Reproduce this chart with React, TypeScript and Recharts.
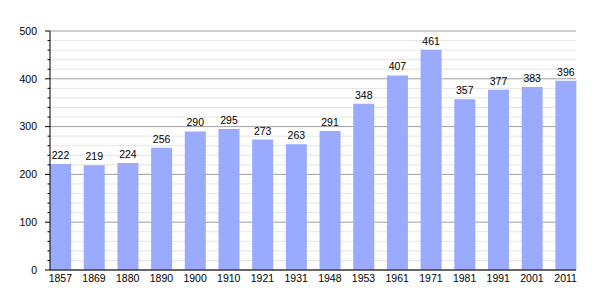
import React from 'react';
import { BarChart, Bar, XAxis, YAxis, CartesianGrid, LabelList } from 'recharts';

const years = ['1857', '1869', '1880', '1890', '1900', '1910', '1921', '1931', '1948', '1953', '1961', '1971', '1981', '1991', '2001', '2011'];
const population = [222, 219, 224, 256, 290, 295, 273, 263, 291, 348, 407, 461, 357, 377, 383, 396];
const yTicks = [0, 20, 40, 60, 80, 100, 120, 140, 160, 180, 200, 220, 240, 260, 280, 300, 320, 340, 360, 380, 400, 420, 440, 460, 480, 500];

const data = years.map((y, i) => ({ year: y, value: population[i] }));

const FONT = 'Liberation Sans, Arial, sans-serif';

const YTick = (props: any) => {
  const { x, y, payload } = props;
  const v = payload.value;
  const major = v % 100 === 0;
  return (
    <g>
      <line x1={x - (major ? 5 : 2.5)} x2={x} y1={y} y2={y} stroke="#000" strokeWidth={1} />
      {major && (
        <text x={x - 13} y={y} dy={3.8} textAnchor="end" fontSize={10.5} fontFamily={FONT} fill="#000">
          {v}
        </text>
      )}
    </g>
  );
};

const gridLine = (props: any) => {
  const { x1, x2, y1, y2, index } = props;
  const major = index % 5 === 0;
  return (
    <line
      key={`g-${index}`}
      x1={x1}
      x2={x2}
      y1={y1}
      y2={y2}
      stroke={major ? '#a0a0a0' : '#e4e4e4'}
      strokeWidth={1}
    />
  );
};

export default function App() {
  return (
    <div style={{ width: 597, height: 292 }}>
      <BarChart
        width={597}
        height={292}
        data={data}
        margin={{ top: 23, right: 29, left: 0, bottom: 0 }}
        barCategoryGap={6.55}
      >
        <CartesianGrid vertical={false} horizontal={gridLine} />
        <XAxis
          dataKey="year"
          height={30}
          tickLine={false}
          tickSize={0}
          tickMargin={5}
          padding={{ left: -6.5, right: -6.5 }}
          axisLine={{ stroke: '#000', strokeWidth: 1 }}
          tick={{ fontSize: 10.5, fontFamily: FONT, fill: '#000' }}
          interval={0}
        />
        <YAxis
          width={42}
          domain={[0, 500]}
          ticks={yTicks}
          interval={0}
          tickLine={false}
          tickSize={0}
          tickMargin={0}
          axisLine={{ stroke: '#000', strokeWidth: 1 }}
          tick={<YTick />}
        />
        <Bar dataKey="value" fill="#99aaff" isAnimationActive={false}>
          <LabelList dataKey="value" position="top" offset={5} fontSize={10.5} fontFamily={FONT} fill="#000" />
        </Bar>
      </BarChart>
    </div>
  );
}
